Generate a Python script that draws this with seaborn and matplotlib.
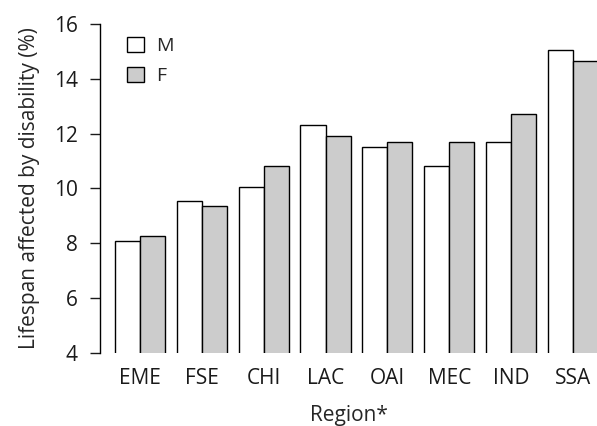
import matplotlib
matplotlib.use('Agg')
import matplotlib.pyplot as plt
import seaborn as sns
import pandas as pd
from matplotlib.patches import Patch

# data
regions = ['EME', 'FSE', 'CHI', 'LAC', 'OAI', 'MEC', 'IND', 'SSA']
male = [8.07, 9.55, 10.04, 12.30, 11.51, 10.82, 11.68, 15.06]
female = [8.25, 9.36, 10.82, 11.93, 11.68, 11.68, 12.73, 14.65]
sexes = ['M', 'F']

df = pd.DataFrame({
    'region': regions * 2,
    'sex': ['M'] * len(regions) + ['F'] * len(regions),
    'value': male + female,
})

sns.set_style('white')
plt.rcParams['font.family'] = ['Open Sans', 'DejaVu Sans']

fig = plt.figure(figsize=(5.97, 4.26), dpi=100)
ax = fig.add_axes([100 / 597, 73 / 426, 497 / 597, 329 / 426])

sns.barplot(data=df, x='region', y='value', hue='sex', hue_order=sexes,
            palette={'M': 'white', 'F': '#cccccc'}, edgecolor='black',
            linewidth=1.0, width=0.81, saturation=1, ax=ax, legend=False)

ax.set_ylim(4, 16)
ax.set_xlim(-0.647, 7.39)
ax.set_yticks([4, 6, 8, 10, 12, 14, 16])

for s in ['top', 'right', 'bottom']:
    ax.spines[s].set_visible(False)
ax.spines['left'].set_color('black')
ax.spines['left'].set_linewidth(1.0)

ax.tick_params(axis='y', left=True, length=7, width=1.0, pad=9,
               labelsize=15, colors='#1a1a1a')
ax.tick_params(axis='x', bottom=False, pad=7, labelsize=15, colors='#1a1a1a')

ax.set_ylabel('Lifespan affected by disability (%)', fontsize=15, labelpad=10)
ax.set_xlabel('Region*', fontsize=15, labelpad=12)

# legend as in base R
handles = [Patch(facecolor='white', edgecolor='black', linewidth=1.0),
           Patch(facecolor='#cccccc', edgecolor='black', linewidth=1.0)]
ax.legend(handles, sexes, loc='upper left', bbox_to_anchor=(0.02, 1.015),
          frameon=False, fontsize=14, handlelength=0.85, handleheight=0.85,
          labelspacing=0.6, handletextpad=0.6)

fig.savefig('out.png', dpi=100)
